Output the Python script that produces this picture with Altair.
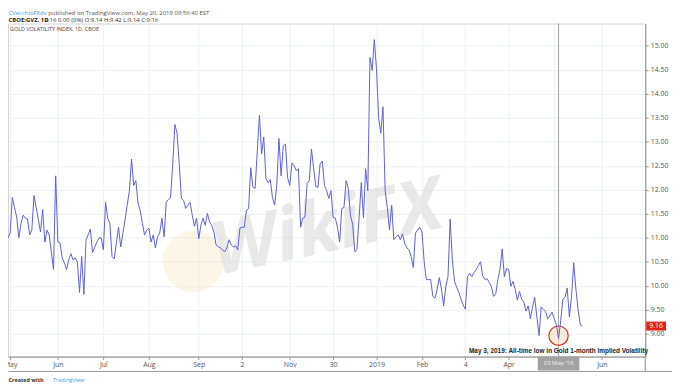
import altair as alt
import pandas as pd

# ---- data (CBOE Gold Volatility Index, daily closes) ----
gvz_values = [
    11.00, 11.10, 11.84, 11.63, 11.43, 11.00, 11.30, 11.47, 11.41, 11.39,
    11.06, 11.16, 11.88, 11.63, 11.38, 11.12, 11.59, 10.91, 11.16, 11.06, 10.70, 10.34,
    12.29, 10.91, 10.89, 10.58, 10.48, 10.34, 10.54, 10.67, 10.54, 10.58,
    10.50, 9.86, 10.61, 9.82, 10.96, 11.06, 11.18, 10.69, 10.80, 10.91, 11.00,
    11.00, 10.75, 11.74, 11.41, 11.30, 10.61, 10.56, 10.89, 11.22, 10.81, 11.09, 11.37, 11.68,
    11.98, 12.64,
    12.09, 12.19, 11.72, 11.57, 11.30, 11.06, 11.16, 11.20, 10.91, 11.06, 10.79, 11.02, 11.10,
    11.41, 11.02, 11.74, 11.80, 11.84, 12.54, 13.36, 13.18, 12.54, 11.82, 11.78, 11.61, 11.68,
    11.74, 11.47, 11.24, 11.41, 10.98, 11.26, 11.41, 11.26, 11.51, 11.33, 11.26, 11.12, 10.85,
    10.81, 10.79, 10.75, 10.71, 10.79, 10.96, 10.85, 10.81, 10.83, 10.75, 11.20, 11.22, 11.22,
    11.57, 11.61, 12.46, 12.05,
    12.03, 12.80, 13.55, 12.75, 13.10, 12.23, 12.15, 12.21, 11.84, 11.68, 12.09, 13.07, 12.29,
    12.91, 12.95, 12.25, 12.09, 12.56, 12.50, 12.40, 12.44, 11.22, 11.41, 11.43, 12.13, 12.19,
    12.85, 12.46, 12.07, 12.05, 12.54, 12.60, 12.09, 11.98, 11.82, 11.98, 11.43, 11.41, 11.22,
    10.91, 11.61, 11.63, 12.19, 12.03, 11.47, 11.28, 10.71, 10.75, 11.43, 12.15, 11.41, 12.44,
    11.98,
    14.76, 14.49, 15.13, 14.52, 13.49, 13.18, 13.73, 11.98, 11.63, 11.16, 11.68, 10.96, 11.02,
    11.06, 10.96, 11.08, 10.89, 10.79, 10.75,
    10.61, 10.38, 11.10, 11.16, 11.22, 11.12, 10.50, 10.13, 10.13, 10.13, 9.78, 9.74, 9.93,
    10.17, 9.93, 9.58, 9.99, 10.19, 11.39, 10.54, 10.09, 9.97, 9.86, 9.72, 9.60, 9.51, 10.19,
    10.26, 10.19, 10.27, 10.34, 10.42, 10.50, 10.21, 10.13, 10.15, 10.07, 9.99, 9.78, 9.82,
    10.13, 10.34, 10.77, 10.19, 10.36, 10.34, 9.99, 10.09, 9.93, 9.70, 9.88, 9.72, 9.66, 9.47,
    9.58, 9.31, 9.56, 9.76, 9.35, 8.96, 9.56, 9.51, 9.47, 9.31, 9.37, 9.45, 9.31, 9.19, 8.90,
    9.27, 9.72, 9.76, 9.95, 9.35, 9.78, 10.48, 9.93, 9.51, 9.19, 9.16,
]

market_holidays = [
    "2018-05-28", "2018-07-04", "2018-09-03", "2018-11-22", "2018-12-05", "2018-12-25",
    "2019-01-01", "2019-01-21", "2019-02-18", "2019-04-19", "2019-05-27",
]
first_session = "2018-04-30"
last_session = "2019-05-20"
axis_end = "2019-07-01"

# the "May" 2019 label sits under the crosshair date box in the reference
x_tick_dates = ["2018-05-01", "2018-06-01", "2018-07-02", "2018-08-01", "2018-09-04",
                "2018-10-02", "2018-11-01", "2018-11-30", "2019-01-02", "2019-02-01",
                "2019-03-04", "2019-04-01", "2019-05-01", "2019-06-03"]
x_tick_labels = ["May", "Jun", "Jul", "Aug", "Sep", "2", "Nov", "30", "2019", "Feb",
                 "4", "Apr", "", "Jun"]
y_ticks = [9.0, 9.5, 10.0, 10.5, 11.0, 11.5, 12.0, 12.5, 13.0, 13.5, 14.0, 14.5, 15.0]

low_date = "2019-05-03"
low_value = 8.96
last_label = "9.16"
annotation_text = "May 3, 2019: All-time low in Gold 1-month Implied Volatility"
crosshair_text = "03 May '19"

# ---- build tables ----
sessions = pd.bdate_range(first_session, axis_end, freq="C", holidays=market_holidays)
domain = [d.strftime("%Y-%m-%d") for d in sessions]
end_idx = domain.index(last_session)
dates = domain[end_idx - len(gvz_values) + 1: end_idx + 1]
df = pd.DataFrame({"date": dates, "value": gvz_values})

FONT = "Open Sans"
W, H = 643, 336

label_expr = " : ".join(f"datum.value == '{d}' ? '{t}'" for d, t in zip(x_tick_dates, x_tick_labels)) + " : ''"

x_scale = alt.Scale(type="point", domain=domain, padding=0)
y_scale = alt.Scale(domain=[8.525, 15.464], nice=False, zero=False)

x_axis = alt.Axis(values=x_tick_dates, labelExpr=label_expr, labelAngle=0, labelOverlap=False,
                  grid=True, gridColor="#eef0f3", tickSize=3, tickColor="#9a9a9a",
                  domainColor="#8a8a8a", labelColor="#555", labelFontSize=7, labelFont=FONT,
                  labelPadding=1, title=None)
y_axis = alt.Axis(orient="right", values=y_ticks, format=".2f", grid=True, gridColor="#eef0f3",
                  tickSize=3, tickColor="#9a9a9a", domainColor="#8a8a8a", labelColor="#555",
                  labelFontSize=7, labelFont=FONT, labelPadding=2, title=None)

X = alt.X("date:O", scale=x_scale, axis=x_axis)
Y = alt.Y("value:Q", scale=y_scale, axis=y_axis)


def label(text, x, y, size=6, color="#333", weight="normal", align="left", **kw):
    return alt.Chart(alt.Data(values=[{"t": text}])).mark_text(
        align=align, baseline="middle", fontSize=size, color=color, fontWeight=weight,
        font=FONT, **kw
    ).encode(x=alt.value(x), y=alt.value(y), text="t:N")


watermark = label("WikiFX", 322, 208, size=74, color="#dcdcdc", weight="bold",
                  align="center", fontStyle="italic", angle=348, opacity=0.6)
logo = alt.Chart(alt.Data(values=[{"k": 1}])).mark_point(
    shape="circle", size=3800, filled=True, color="#f5e0b0", opacity=0.28
).encode(x=alt.value(187), y=alt.value(240))

line = alt.Chart(df).mark_line(color="#5d60d6", strokeWidth=1).encode(x=X, y=Y)

cross_df = pd.DataFrame({"date": [low_date], "value": [low_value],
                         "note": [annotation_text], "tag": [crosshair_text]})
cross_rule = alt.Chart(cross_df).mark_rule(color="#a0a0a0", strokeWidth=1).encode(
    x=X, y=alt.value(0), y2=alt.value(H))
circle = alt.Chart(cross_df).mark_point(
    shape="circle", size=380, filled=False, fill="#fbe2bf", fillOpacity=0.6,
    stroke="#d8322a", strokeWidth=1.2, opacity=1
).encode(x=X, y=Y)
note = alt.Chart(cross_df).mark_text(
    fontSize=6.5, fontWeight="bold", color="#222", font="Liberation Sans", baseline="middle"
).encode(x=X, y=alt.value(330), text="note:N")
tag_box = alt.Chart(cross_df).mark_point(
    shape="M-1,-0.333H1V0.333H-1Z", size=1764, filled=True, color="#a3a3a3", opacity=1
).encode(x=X, y=alt.value(343))
tag_text = alt.Chart(cross_df).mark_text(
    fontSize=6, color="#f2f2f2", font=FONT, baseline="middle"
).encode(x=X, y=alt.value(343), text="tag:N")

last_df = pd.DataFrame({"date": [dates[-1]], "value": [gvz_values[-1]], "lab": [last_label]})
price_box = alt.Chart(last_df).mark_point(
    shape="M-1,-0.45H1V0.45H-1Z", size=400, filled=True, color="#e3221b", opacity=1
).encode(x=alt.value(654), y=Y)
price_text = alt.Chart(last_df).mark_text(
    fontSize=7, color="white", font=FONT, baseline="middle"
).encode(x=alt.value(654), y=Y, text="lab:N")

bottom_rule = alt.Chart(alt.Data(values=[{"k": 1}])).mark_rule(color="#9a9a9a").encode(
    x=alt.value(0), x2=alt.value(670), y=alt.value(351))
axis_ext = alt.Chart(alt.Data(values=[{"k": 1}])).mark_rule(color="#8a8a8a").encode(
    x=alt.value(W), y=alt.value(H), y2=alt.value(351))

texts = [
    label("CVecchioFXdv", 0.5, -10.5, size=6, color="#3d9ae0"),
    label("published on TradingView.com, May 20, 2019 09:56:40 EST", 40.5, -10.5, size=6, color="#555"),
    label("CBOE:GVZ, 1D", 0.5, -3.5, size=6, color="#222", weight="bold"),
    label("9.16 0.00 (0%) O:9.14 H:9.42 L:9.14 C:9.16", 37, -3.5, size=6, color="#333"),
    label("GOLD VOLATILITY INDEX, 1D, CBOE", 2, 5, size=5.5, color="#444"),
    label("Created with", 0.5, 360, size=5.5, color="#333", weight="bold"),
    label("TradingView", 45.5, 360, size=5.5, color="#3d9ae0"),
]

chart = alt.layer(
    watermark, logo, cross_rule, circle, line, note, tag_box, tag_text,
    price_box, price_text, bottom_rule, axis_ext, *texts
).properties(
    width=W, height=H,
    autosize=alt.AutoSizeParams(type="none"),
    padding={"left": 0, "top": 14, "right": 27, "bottom": 27},
).configure_view(stroke="#d2d2d2", strokeWidth=1)

chart.save("out.html", embed_options={"renderer": "svg", "actions": False})
